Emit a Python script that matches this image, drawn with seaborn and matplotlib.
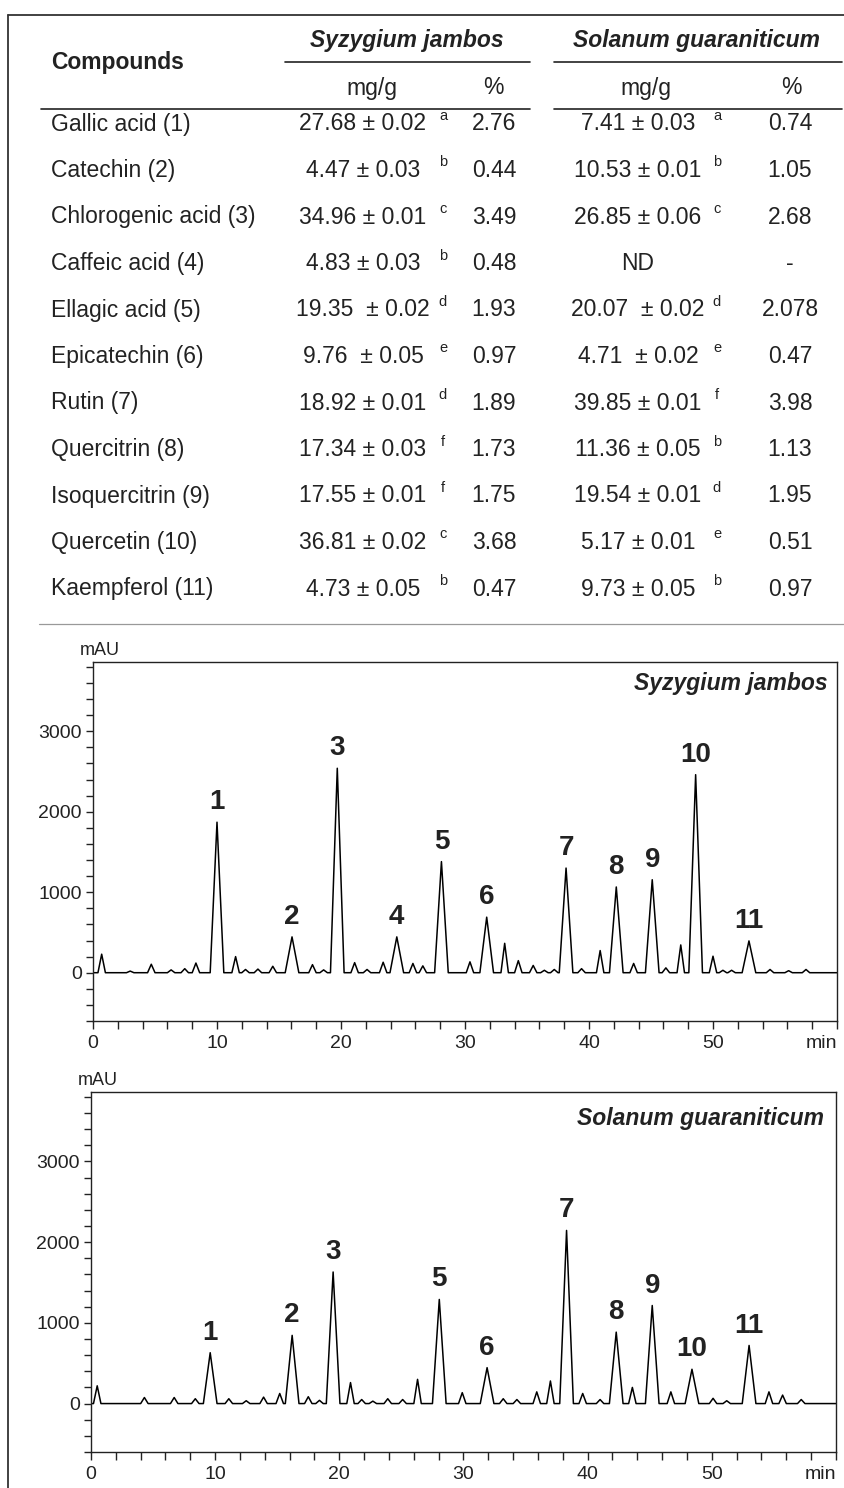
import matplotlib
matplotlib.use("Agg")
import matplotlib.pyplot as plt
from matplotlib.ticker import MultipleLocator, FixedLocator
import pandas as pd
import seaborn as sns

# ---- table data ----
compounds = ["Gallic acid (1)", "Catechin (2)", "Chlorogenic acid (3)", "Caffeic acid (4)",
             "Ellagic acid (5)", "Epicatechin (6)", "Rutin (7)", "Quercitrin (8)",
             "Isoquercitrin (9)", "Quercetin (10)", "Kaempferol (11)"]
sj_mgg = ["27.68 ± 0.02", "4.47 ± 0.03", "34.96 ± 0.01", "4.83 ± 0.03", "19.35  ± 0.02",
          "9.76  ± 0.05", "18.92 ± 0.01", "17.34 ± 0.03", "17.55 ± 0.01", "36.81 ± 0.02",
          "4.73 ± 0.05"]
sj_sig = ["a", "b", "c", "b", "d", "e", "d", "f", "f", "c", "b"]
sj_pct = ["2.76", "0.44", "3.49", "0.48", "1.93", "0.97", "1.89", "1.73", "1.75", "3.68", "0.47"]
sg_mgg = ["7.41 ± 0.03", "10.53 ± 0.01", "26.85 ± 0.06", "ND", "20.07  ± 0.02",
          "4.71  ± 0.02", "39.85 ± 0.01", "11.36 ± 0.05", "19.54 ± 0.01", "5.17 ± 0.01",
          "9.73 ± 0.05"]
sg_sig = ["a", "b", "c", "", "d", "e", "f", "b", "d", "e", "b"]
sg_pct = ["0.74", "1.05", "2.68", "-", "2.078", "0.47", "3.98", "1.13", "1.95", "0.51", "0.97"]

# ---- chromatograms: labelled compound peaks (min, mAU) ----
sj_labels = ["1", "2", "3", "4", "5", "6", "7", "8", "9", "10", "11"]
sj_rt = [10.0, 16.05, 19.7, 24.5, 28.1, 31.75, 38.15, 42.2, 45.1, 48.6, 52.9]
sj_mau = [1870, 445, 2540, 445, 1380, 690, 1300, 1065, 1155, 2460, 395]
# small unlabelled peaks
sj_minor_rt = [0.7, 3.0, 4.7, 6.3, 7.4, 8.3, 11.5, 12.3, 13.3, 14.5, 17.7, 18.6, 21.1,
               22.1, 23.4, 25.8, 26.6, 30.4, 33.2, 34.3, 35.5, 36.4, 37.2, 39.4, 40.9,
               43.6, 46.2, 47.4, 50.0, 50.8, 51.5, 54.6, 56.1, 57.5]
sj_minor_mau = [230, 20, 105, 35, 50, 120, 200, 40, 45, 80, 100, 35, 125,
                40, 130, 115, 85, 135, 365, 150, 90, 30, 40, 50, 275,
                115, 60, 345, 205, 30, 30, 40, 25, 40]

sg_labels = ["1", "2", "3", "5", "6", "7", "8", "9", "10", "11"]
sg_rt = [9.6, 16.2, 19.5, 28.05, 31.9, 38.3, 42.3, 45.2, 48.4, 53.0]
sg_mau = [630, 845, 1630, 1290, 445, 2145, 885, 1215, 425, 720]
sg_minor_rt = [0.5, 4.3, 6.7, 8.4, 11.1, 12.5, 13.9, 15.2, 17.5, 18.4, 20.9, 21.8, 22.7,
               23.9, 25.1, 26.3, 29.9, 33.2, 34.3, 35.9, 37.0, 39.6, 41.0, 43.6, 46.7,
               50.1, 51.2, 54.6, 55.7, 57.2]
sg_minor_mau = [220, 75, 75, 60, 60, 35, 80, 125, 85, 40, 260, 50, 30,
                60, 50, 300, 135, 60, 50, 145, 280, 125, 50, 200, 145,
                65, 35, 145, 105, 50]

RUN_END = 60
PEAK_HW = 0.55
MINOR_HW = 0.3


def trace(rt, mau, minor_rt, minor_mau):
    peaks = [(t, h, PEAK_HW) for t, h in zip(rt, mau)]
    peaks += [(t, h, MINOR_HW) for t, h in zip(minor_rt, minor_mau)]
    peaks.sort()
    xs, ys = [0.0], [0.0]
    for t, h, w in peaks:
        xs += [t - w, t, t + w]
        ys += [0, h, 0]
    xs.append(RUN_END)
    ys.append(0)
    return pd.DataFrame({"min": xs, "mAU": ys})


sns.set_theme(style="ticks")
plt.rcParams["font.family"] = ["Liberation Sans", "DejaVu Sans"]
INK = "#222222"

fig = plt.figure(figsize=(8.45, 14.88), dpi=100)

# page layer in pixel units for the table
page = fig.add_axes([0, 0, 1, 1])
page.set_xlim(0, 845)
page.set_ylim(1488, 0)
page.axis("off")

page.plot([8, 845], [15, 15], color="#333333", lw=1.3)
page.plot([8, 8], [15, 1488], color="#333333", lw=1.3)
page.plot([285, 530], [62, 62], color=INK, lw=1.2)
page.plot([554, 842], [62, 62], color=INK, lw=1.2)
page.plot([41, 530], [109, 109], color=INK, lw=1.2)
page.plot([554, 842], [109, 109], color=INK, lw=1.2)
page.plot([39, 845], [624, 624], color="#999999", lw=0.9)

fs = 16.5
page.text(51, 62, "Compounds", fontsize=fs, fontweight="bold", ha="left", va="center", color=INK)
page.text(407, 41, "Syzygium jambos", fontsize=fs, fontweight="bold", style="italic",
          ha="center", va="center", color=INK)
page.text(697, 41, "Solanum guaraniticum", fontsize=fs, fontweight="bold", style="italic",
          ha="center", va="center", color=INK)
for x, s in [(372, "mg/g"), (493, "%"), (646, "mg/g"), (791, "%")]:
    page.text(x, 88, s, fontsize=fs, ha="center", va="center", color=INK)

for i, name in enumerate(compounds):
    y = 124 + i * 46.5
    page.text(51, y, name, fontsize=fs, ha="left", va="center", color=INK)
    page.text(363, y, sj_mgg[i], fontsize=fs, ha="center", va="center", color=INK)
    page.text(443, y - 8, sj_sig[i], fontsize=10.5, ha="center", va="center", color=INK)
    page.text(494, y, sj_pct[i], fontsize=fs, ha="center", va="center", color=INK)
    page.text(638, y, sg_mgg[i], fontsize=fs, ha="center", va="center", color=INK)
    page.text(717, y - 8, sg_sig[i], fontsize=10.5, ha="center", va="center", color=INK)
    page.text(790, y, sg_pct[i], fontsize=fs, ha="center", va="center", color=INK)


def chromatogram(rect, df, labels, rt, mau, title, title_xy):
    ax = fig.add_axes(rect)
    sns.lineplot(data=df, x="min", y="mAU", ax=ax, color="black", lw=1.1,
                 estimator=None, sort=False)
    for lab, t, h in zip(labels, rt, mau):
        ax.annotate(lab, (t, h), xytext=(0, 5), textcoords="offset points",
                    ha="center", va="bottom", fontsize=20, fontweight="bold", color=INK)
    ax.set_xlim(0, RUN_END)
    ax.set_ylim(-600, 3860)
    ax.xaxis.set_major_locator(FixedLocator([0, 10, 20, 30, 40, 50, 60]))
    xt = ax.set_xticklabels(["0", "10", "20", "30", "40", "50", "min"])
    xt[-1].set_ha("right")
    ax.xaxis.set_minor_locator(MultipleLocator(2))
    ax.yaxis.set_major_locator(MultipleLocator(1000))
    ax.yaxis.set_minor_locator(MultipleLocator(200))
    ax.tick_params(which="both", direction="out", length=5, width=1, color=INK,
                   labelsize=14, labelcolor=INK, pad=3)
    ax.tick_params(axis="x", which="both", length=6, pad=4)
    ax.set_xlabel("")
    ax.set_ylabel("")
    for sp in ax.spines.values():
        sp.set_visible(True)
        sp.set_linewidth(1.0)
        sp.set_color(INK)
    ax.text(-0.0175, 1.008, "mAU", transform=ax.transAxes, fontsize=13,
            ha="left", va="bottom", color=INK)
    ax.text(title_xy[0], title_xy[1], title, transform=ax.transAxes, fontsize=16.5,
            fontweight="bold", style="italic", ha="right", va="center", color=INK)
    return ax


chromatogram([93 / 845, 1 - 1021 / 1488, 744 / 845, 359 / 1488],
             trace(sj_rt, sj_mau, sj_minor_rt, sj_minor_mau),
             sj_labels, sj_rt, sj_mau, "Syzygium jambos", (0.987, 0.94))
chromatogram([91 / 845, 1 - 1452 / 1488, 745 / 845, 360 / 1488],
             trace(sg_rt, sg_mau, sg_minor_rt, sg_minor_mau),
             sg_labels, sg_rt, sg_mau, "Solanum guaraniticum", (0.984, 0.925))

fig.savefig("out.png", dpi=100)
